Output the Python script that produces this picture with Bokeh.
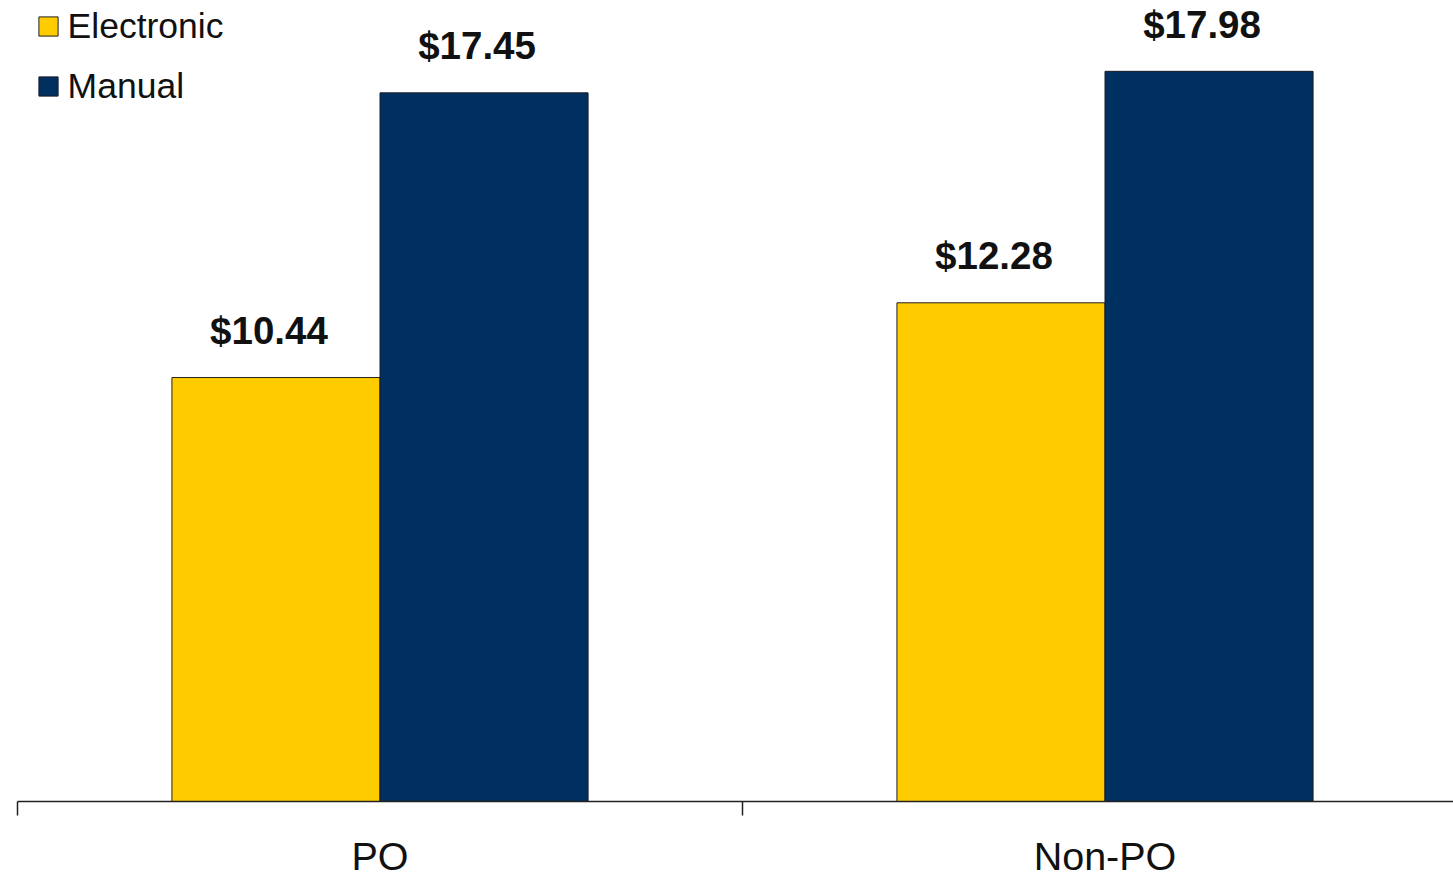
from bokeh.plotting import figure
from bokeh.models import ColumnDataSource, Range1d, LinearAxis, FixedTicker
from bokeh.transform import dodge
from bokeh.core.properties import value
from bokeh.embed import file_html
from bokeh.resources import INLINE

categories = ["PO", "Non-PO"]
electronic = [10.44, 12.28]
manual = [17.45, 17.98]
series_names = ["Electronic", "Manual"]
colors = ["#FFCC00", "#00305F"]

cat_pos = [i + 0.5 for i in range(len(categories))]
src = ColumnDataSource(dict(
    x=cat_pos,
    electronic=electronic,
    manual=manual,
    el_txt=["$%.2f" % v for v in electronic],
    ma_txt=["$%.2f" % v for v in manual],
))

W, H = 1453, 881
left, bottom = 17, 80
px_per_cat = 725.0
px_per_unit = 40.61
fw, fh = W - left, H - bottom

p = figure(width=W, height=H, output_backend="svg", toolbar_location=None,
           x_range=Range1d(0, fw / px_per_cat), y_range=Range1d(0, fh / px_per_unit),
           x_axis_location=None, y_axis_location=None,
           min_border_left=left, min_border_right=0, min_border_top=0, min_border_bottom=bottom)
p.outline_line_color = None
p.xgrid.visible = False
p.ygrid.visible = False
p.background_fill_color = "white"
p.border_fill_color = "white"

bw = 0.287
off = bw / 2
p.vbar(x=dodge("x", -off, range=p.x_range), top="electronic", width=bw, source=src,
       fill_color=colors[0], line_color="#222222", line_width=1, legend_label=series_names[0])
p.vbar(x=dodge("x", off, range=p.x_range), top="manual", width=bw, source=src,
       fill_color=colors[1], line_color="#1a1a2a", line_width=1, legend_label=series_names[1])

font = value("Liberation Sans")
p.text(x=dodge("x", -off, range=p.x_range), y="electronic", text="el_txt", source=src,
       text_font=font, text_font_style="bold", text_font_size="38.5px", text_color="#111111",
       text_align="center", text_baseline="middle", x_offset=-7, y_offset=-47)
p.text(x=dodge("x", off, range=p.x_range), y="manual", text="ma_txt", source=src,
       text_font=font, text_font_style="bold", text_font_size="38.5px", text_color="#111111",
       text_align="center", text_baseline="middle", x_offset=-7, y_offset=-47)

ax = LinearAxis(ticker=FixedTicker(ticks=cat_pos, minor_ticks=[0, 1, 2]),
                major_label_overrides={c: n for c, n in zip(cat_pos, categories)})
ax.major_tick_out = 0
ax.major_tick_in = 0
ax.minor_tick_out = 14
ax.minor_tick_in = 0
ax.minor_tick_line_color = "#222222"
ax.minor_tick_line_width = 1.5
ax.axis_line_color = "#222222"
ax.axis_line_width = 1.5
ax.major_label_text_font = "Liberation Sans"
ax.major_label_text_font_size = "39.5px"
ax.major_label_text_color = "#111111"
ax.major_label_standoff = 18
p.add_layout(ax, "below")

lg = p.legend[0]
lg.margin = 0
lg.padding = 0
lg.border_line_color = None
lg.background_fill_alpha = 0
lg.glyph_width = 24
lg.glyph_height = 24
lg.label_height = 24
lg.spacing = 19
lg.label_standoff = 8
lg.label_text_font = "Liberation Sans"
lg.label_text_font_size = "35.5px"
lg.label_text_color = "#111111"
lg.label_text_baseline = "middle"
lg.location = (18.6, fh - 106.8)

open("out.html", "w").write(file_html(p, INLINE))
